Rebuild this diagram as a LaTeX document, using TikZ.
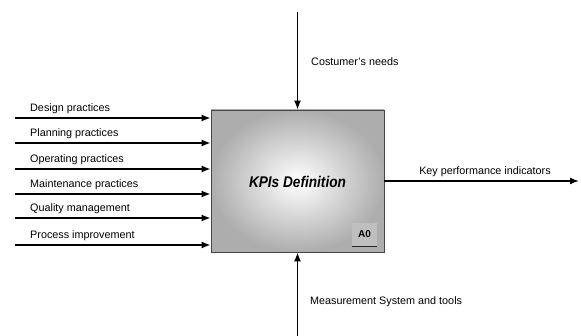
\documentclass[tikz,border=0pt]{standalone}
\usepackage{fontspec}
\setmainfont{Liberation Sans}
\usetikzlibrary{arrows.meta}
\usetikzlibrary{positioning}
\usetikzlibrary{calc}

\tikzset{
  flow/.style={line width=1.5pt,-{Latex[length=9pt,width=7pt]}},
  lbl/.style={inner sep=0pt,font=\fontsize{10.8}{12}\selectfont},
}

\begin{document}
\begin{tikzpicture}[x=1pt,y=-1pt]
\useasboundingbox (0,0) rectangle (581,336);

% activity box
\node[draw=gray!55!black,line width=0.8pt,minimum width=173pt,minimum height=142pt,
      inner color=white,outer color=gray!64] (box) at (297.5,181) {};
\node[xscale=0.88,transform shape,font=\fontsize{15.5}{18}\selectfont\bfseries\itshape] (title) at (297.5,182) {KPIs Definition};
\node[fill=gray!50,minimum width=25pt,minimum height=23pt,inner sep=0pt,
      font=\fontsize{10}{12}\selectfont\bfseries] (a0) at (364.5,234.5) {A0};
\draw[gray!30!black,line width=1pt] (a0.south west) -- (a0.south east);

% inputs
\coordinate (in1) at (15,118);
\coordinate (in2) at (15,143);
\coordinate (in3) at (15,169);
\coordinate (in4) at (15,194);
\coordinate (in5) at (15,218);
\coordinate (in6) at (15,245);
\draw[flow] (in1) -- (in1 -| box.west);
\draw[flow] (in2) -- (in2 -| box.west);
\draw[flow] (in3) -- (in3 -| box.west);
\draw[flow] (in4) -- (in4 -| box.west);
\draw[flow] (in5) -- (in5 -| box.west);
\draw[flow] (in6) -- (in6 -| box.west);
\node[lbl,anchor=south west] (l1) at (30,114) {Design practices};
\node[lbl,anchor=south west] (l2) at (30,139) {Planning practices};
\node[lbl,anchor=south west] (l3) at (30,165) {Operating practices};
\node[lbl,anchor=south west] (l4) at (30,190) {Maintenance practices};
\node[lbl,anchor=south west] (l5) at (30,214) {Quality management};
\node[lbl,anchor=south west] (l6) at (30,241) {Process improvement};

% control
\coordinate (ctrl) at (297.5,12);
\draw[flow] (ctrl) -- (box.north);
\node[lbl,anchor=west] (needs) at (311,62) {Costumer's needs};

% mechanism
\coordinate (mech) at (297.5,336);
\draw[flow] (mech) -- (box.south);
\node[lbl,anchor=west] (tools) at (310,302) {Measurement System and tools};

% output
\coordinate (out) at (579,181);
\draw[flow] (box.east) -- (out);
\node[lbl,anchor=south] (kpi) at (485,177) {Key performance indicators};

\end{tikzpicture}
\end{document}
